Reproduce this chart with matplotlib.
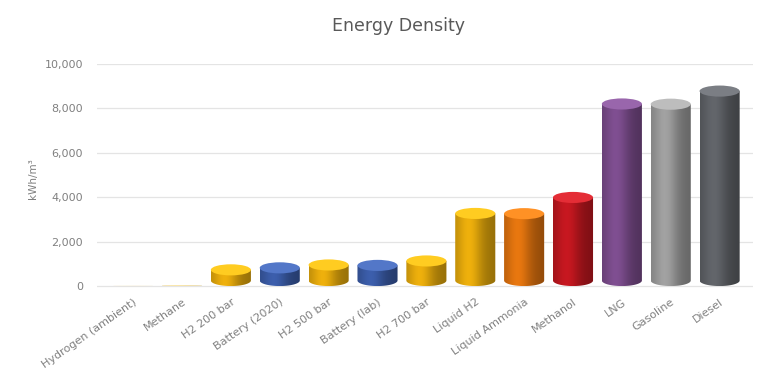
import numpy as np
import matplotlib
matplotlib.use("Agg")
import matplotlib.pyplot as plt
from matplotlib.patches import Ellipse, PathPatch
from matplotlib.path import Path
from matplotlib.colors import to_rgb
from matplotlib.ticker import FuncFormatter

# data
categories = ["Hydrogen (ambient)", "Methane", "H2 200 bar", "Battery (2020)",
              "H2 500 bar", "Battery (lab)", "H2 700 bar", "Liquid H2",
              "Liquid Ammonia", "Methanol", "LNG", "Gasoline", "Diesel"]
values = [3, 10, 730, 820, 950, 930, 1130, 3270, 3260, 3990, 8200, 8190, 8780]
colors = ["#E6AA0C", "#E6AA0C", "#E6AA0C", "#3A5BA6", "#E6AA0C", "#3A5BA6",
          "#E6AA0C", "#E6AA0C", "#E0730F", "#C0171F", "#7B4C8C", "#9C9C9C",
          "#5F6267"]
yticks = [0, 2000, 4000, 6000, 8000, 10000]

fig = plt.figure(figsize=(7.6, 3.76), dpi=100)
ax = fig.add_axes([0.1276, 0.2215, 0.863, 0.6083])

w = 0.82          # cylinder width in category units
ell_h = 500.0     # ellipse height in data units


def shade(c, n=64):
    # horizontal light/dark gradient so the bar looks round
    base = np.array(to_rgb(c))
    t = np.linspace(0, 1, n)
    k = 0.78 + 0.30 * np.exp(-((t - 0.35) / 0.3) ** 2) - 0.12 * t
    rgb = np.clip(base[None, :] * k[:, None], 0, 1)
    return rgb[None, :, :]


for i, (v, c) in enumerate(zip(values, colors)):
    eh = min(ell_h, v)
    x0, x1 = i - w / 2, i + w / 2
    # side walls + bottom half ellipse resting on the zero line
    th = np.linspace(np.pi, 2 * np.pi, 40)
    arc = np.column_stack([i + w / 2 * np.cos(th), eh / 2 + eh / 2 * np.sin(th)])
    verts = np.vstack([[x0, v], arc, [x1, v], [x0, v]])
    clip = PathPatch(Path(verts, closed=True), facecolor="none",
                     edgecolor="none", transform=ax.transData)
    ax.add_patch(clip)
    im = ax.imshow(shade(c), extent=[x0, x1, 0, v], aspect="auto",
                   origin="lower", zorder=2, interpolation="bilinear")
    im.set_clip_path(clip)
    # top of the cylinder
    top = np.clip(np.array(to_rgb(c)) * 1.08 + 0.08, 0, 1)
    ax.add_patch(Ellipse((i, v), w, eh, facecolor=top, edgecolor="none",
                         zorder=3))

ax.set_xlim(-0.74, 12.68)
ax.set_ylim(-300, 10000)
ax.set_yticks(yticks)
ax.yaxis.set_major_formatter(FuncFormatter(lambda y, p: f"{int(y):,}"))
ax.set_xticks(range(len(categories)))
ax.set_xticklabels(categories, rotation=35, ha="right", rotation_mode="anchor")
ax.grid(axis="y", color="#E4E4E4", lw=0.9, zorder=0)
ax.set_axisbelow(True)
for s in ax.spines.values():
    s.set_visible(False)
ax.tick_params(length=0, colors="#808080", labelsize=8)
ax.tick_params(axis="y", pad=10)
ax.tick_params(axis="x", pad=3)
ax.set_ylabel("kWh/m³", fontsize=7.5, color="#7F7F7F", labelpad=5)

fig.text(0.524, 0.932, "Energy Density", ha="center", va="center",
         fontsize=12.5, color="#595959")

fig.savefig("out.png", dpi=100)
